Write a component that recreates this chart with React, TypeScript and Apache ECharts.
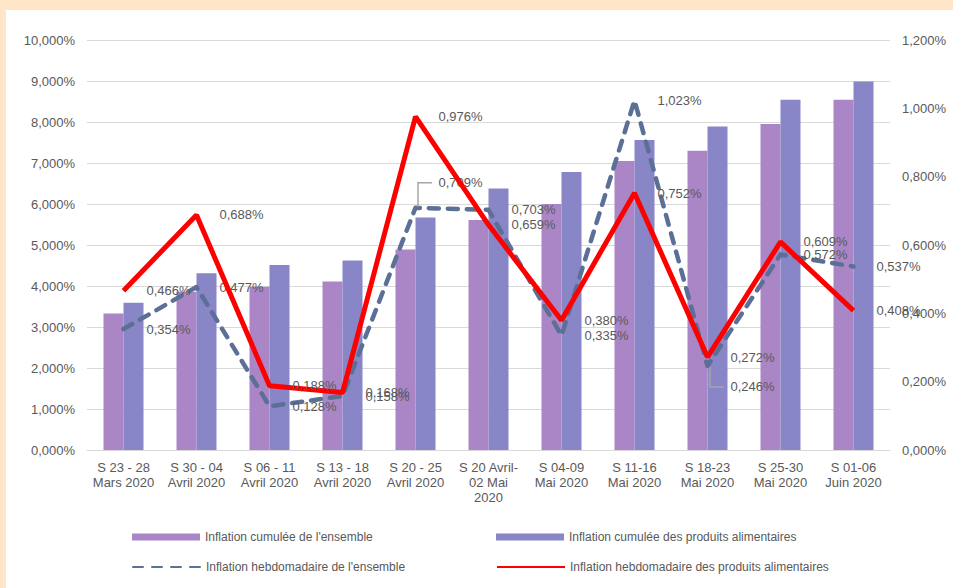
import React, { useEffect, useRef } from "react";
import * as echarts from "echarts";

const categories = [
  "S 23 - 28\nMars 2020",
  "S 30 - 04\nAvril 2020",
  "S 06 - 11\nAvril 2020",
  "S 13 - 18\nAvril 2020",
  "S 20 - 25\nAvril 2020",
  "S 20 Avril-\n02 Mai\n2020",
  "S 04-09\nMai 2020",
  "S 11-16\nMai 2020",
  "S 18-23\nMai 2020",
  "S 25-30\nMai 2020",
  "S 01-06\nJuin 2020",
];

const cumEnsemble = [3.33, 3.86, 3.98, 4.11, 4.89, 5.61, 6.0, 7.05, 7.3, 7.95, 8.54];
const cumFood = [3.59, 4.31, 4.51, 4.62, 5.67, 6.38, 6.78, 7.56, 7.89, 8.54, 8.99];
const weeklyEnsemble = [0.354, 0.477, 0.128, 0.158, 0.709, 0.703, 0.335, 1.023, 0.246, 0.572, 0.537];
const weeklyFood = [0.466, 0.688, 0.188, 0.168, 0.976, 0.659, 0.38, 0.752, 0.272, 0.609, 0.408];

const seriesNames = [
  "Inflation cumulée de l'ensemble",
  "Inflation cumulée des produits alimentaires",
  "Inflation hebdomadaire de l'ensemble",
  "Inflation hebdomadaire des produits alimentaires",
];

// labels that were moved away from their point (index -> vertical shift)
const movedEnsembleLabels: Record<number, number> = { 4: -25, 8: 21 };

const FONT = "'Liberation Sans', Arial, sans-serif";
const TXT = "#595959";
const fmt = (v: number) => v.toFixed(3).replace(".", ",") + "%";

export default function App() {
  const ref = useRef<HTMLDivElement>(null);
  useEffect(() => {
    if (!ref.current) return;
    const chart = echarts.init(ref.current, undefined, { renderer: "svg" });
    const labelBase = {
      show: true,
      position: "right" as const,
      distance: 22,
      color: TXT,
      fontSize: 13,
      fontFamily: FONT,
      formatter: (p: any) => fmt(p.value as number),
    };
    const legendCommon = {
      itemWidth: 68,
      itemHeight: 7,
      textStyle: { color: TXT, fontSize: 12, fontFamily: FONT },
      selectedMode: false,
    };
    chart.setOption({
      animation: false,
      backgroundColor: "#ffffff",
      grid: { left: 81, right: 63, top: 30, bottom: 138 },
      legend: [
        { ...legendCommon, left: 121, top: 516, icon: "rect", data: [seriesNames[0]] },
        { ...legendCommon, left: 485, top: 516, icon: "rect", data: [seriesNames[1]] },
        { ...legendCommon, left: 121, top: 546, data: [seriesNames[2]] },
        { ...legendCommon, left: 485, top: 546, data: [seriesNames[3]] },
      ],
      xAxis: {
        type: "category",
        data: categories,
        axisTick: { show: false },
        axisLine: { lineStyle: { color: "#D9D9D9", width: 1 } },
        axisLabel: {
          interval: 0,
          color: TXT,
          fontSize: 13,
          lineHeight: 15,
          fontFamily: FONT,
          margin: 10,
        },
      },
      yAxis: [
        {
          type: "value",
          min: 0,
          max: 10,
          interval: 1,
          axisLine: { show: false },
          axisTick: { show: false },
          splitLine: { lineStyle: { color: "#D9D9D9", width: 1 } },
          axisLabel: {
            color: TXT,
            fontSize: 13,
            fontFamily: FONT,
            margin: 12,
            formatter: (v: number) => fmt(v),
          },
        },
        {
          type: "value",
          min: 0,
          max: 1.2,
          interval: 0.2,
          axisLine: { show: false },
          axisTick: { show: false },
          splitLine: { show: false },
          axisLabel: {
            color: TXT,
            fontSize: 13,
            fontFamily: FONT,
            margin: 12,
            formatter: (v: number) => fmt(v),
          },
        },
      ],
      series: [
        {
          name: seriesNames[0],
          type: "bar",
          data: cumEnsemble,
          barWidth: 20,
          barGap: "0%",
          itemStyle: { color: "#AB86C6" },
        },
        {
          name: seriesNames[1],
          type: "bar",
          data: cumFood,
          barWidth: 20,
          barGap: "0%",
          itemStyle: { color: "#8886C7" },
        },
        {
          name: seriesNames[2],
          type: "line",
          yAxisIndex: 1,
          symbol: "circle",
          symbolSize: 2,
          itemStyle: { color: "rgba(0,0,0,0)" },
          lineStyle: { color: "#5B6F97", width: 4.5, type: [10, 9], cap: "round", join: "round" },
          label: labelBase,
          data: weeklyEnsemble.map((v, i) =>
            movedEnsembleLabels[i] !== undefined
              ? { value: v, label: { offset: [0, movedEnsembleLabels[i]] } }
              : v
          ),
          z: 3,
        },
        {
          name: seriesNames[3],
          type: "line",
          yAxisIndex: 1,
          symbol: "circle",
          symbolSize: 2,
          itemStyle: { color: "rgba(0,0,0,0)" },
          lineStyle: { color: "#FF0000", width: 5 },
          label: labelBase,
          data: weeklyFood,
          z: 4,
        },
      ],
    });

    // leader lines for the moved labels
    const graphics: any[] = [];
    Object.keys(movedEnsembleLabels).forEach((k) => {
      const i = Number(k);
      const dy = movedEnsembleLabels[i];
      const p = chart.convertToPixel({ xAxisIndex: 0, yAxisIndex: 1 }, [i, weeklyEnsemble[i]]) as number[];
      if (!p) return;
      const x0 = p[0] + 2.5;
      const y0 = p[1] + (dy < 0 ? -1 : 1);
      const y1 = p[1] + dy;
      graphics.push({
        type: "polyline",
        shape: { points: [[x0, y0], [x0, y1], [x0 + 14, y1]] },
        style: { stroke: "#A6A6A6", lineWidth: 1.5, fill: "none" },
        z: 10,
      });
    });
    chart.setOption({ graphic: graphics });

    return () => chart.dispose();
  }, []);

  return (
    <div
      style={{
        position: "fixed",
        left: 0,
        top: 0,
        width: 953,
        height: 588,
        background: "#FFE6C9",
      }}
    >
      <div
        ref={ref}
        style={{ position: "absolute", left: 6, top: 10, width: 947, height: 578 }}
      />
    </div>
  );
}
